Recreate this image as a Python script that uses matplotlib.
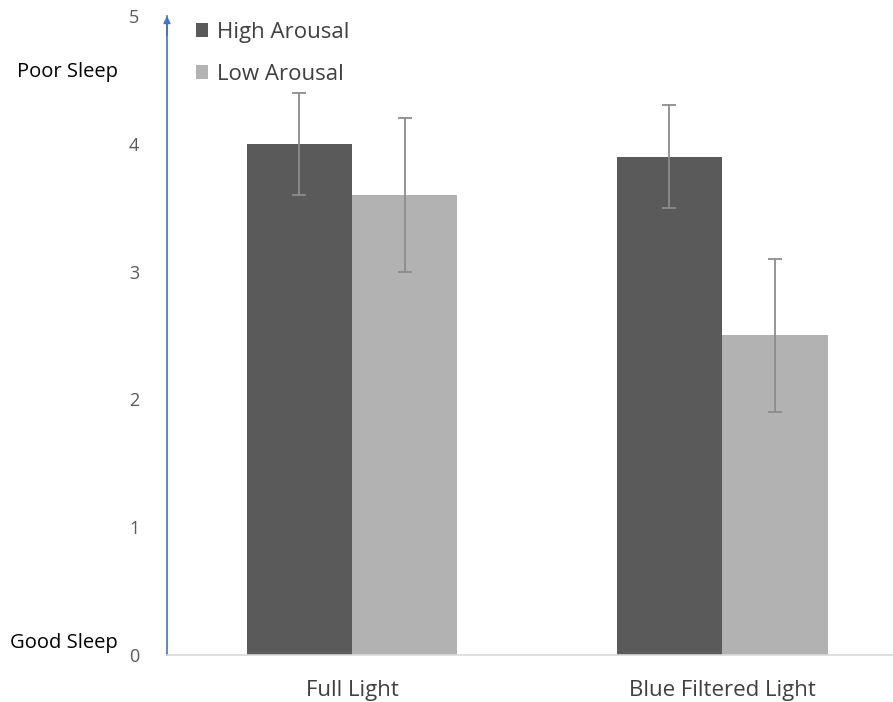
import matplotlib
matplotlib.use("Agg")
import matplotlib.pyplot as plt
import numpy as np

categories = ["Full Light", "Blue Filtered Light"]
series_names = ["High Arousal", "Low Arousal"]
high_vals = [4.0, 3.9]
low_vals = [3.6, 2.5]
high_err = [0.4, 0.4]
low_err = [0.6, 0.6]
yticks = [0, 1, 2, 3, 4, 5]

plt.rcParams['font.family'] = ['Open Sans', 'DejaVu Sans']

W, H = 893, 702
fig = plt.figure(figsize=(W/100, H/100), dpi=100)
left = 167 / W
bottom = (H - 655) / H
top = (H - 16) / H
ax = fig.add_axes([left, bottom, 1.0 - left, top - bottom])

x = np.arange(len(categories))
bw = 0.285
dark = "#5a5a5a"
light = "#b2b2b2"
errc = "#8c8c8c"
ax.bar(x - bw/2, high_vals, bw, color=dark, label=series_names[0], zorder=2)
ax.bar(x + bw/2, low_vals, bw, color=light, label=series_names[1], zorder=2)
ax.errorbar(x - bw/2, high_vals, yerr=high_err, fmt='none', ecolor=errc,
            elinewidth=1.3, capsize=5, capthick=1.3, zorder=3)
ax.errorbar(x + bw/2, low_vals, yerr=low_err, fmt='none', ecolor=errc,
            elinewidth=1.3, capsize=5, capthick=1.3, zorder=3)

ax.set_xlim(-0.5, 1.462)
ax.set_ylim(0, 5)
ax.set_yticks(yticks)
ax.set_yticklabels([str(t) for t in yticks])
ax.set_xticks(x)
ax.set_xticklabels(categories)

for s in ["top", "right"]:
    ax.spines[s].set_visible(False)
ax.spines["left"].set_color("#4472c4")
ax.spines["left"].set_linewidth(1.2)
ax.spines["bottom"].set_color("#d9d9d9")
ax.spines["bottom"].set_linewidth(1.2)
ax.tick_params(axis='y', length=0, pad=20, labelsize=13, labelcolor="#595959")
ax.tick_params(axis='x', length=0, pad=18, labelsize=16, labelcolor="#404040")

# arrow on top of y axis
ax.annotate("", xy=(0, 1.0), xycoords="axes fraction", xytext=(0, 0.97),
            arrowprops=dict(arrowstyle="-|>", color="#4472c4", lw=1.2,
                            mutation_scale=10, shrinkA=0, shrinkB=0))

leg = ax.legend(loc="upper left", bbox_to_anchor=(0.012, 1.022), frameon=False,
                fontsize=16, handlelength=0.55, handleheight=0.55,
                handletextpad=0.4, labelspacing=0.95, labelcolor="#404040")

fig.text(17 / W, 1 - 72 / H, "Poor Sleep", fontsize=14.5, color="black",
         ha="left", va="center")
fig.text(10 / W, 1 - 643 / H, "Good Sleep", fontsize=14.5, color="black",
         ha="left", va="center")

fig.savefig("out.png", dpi=100)
